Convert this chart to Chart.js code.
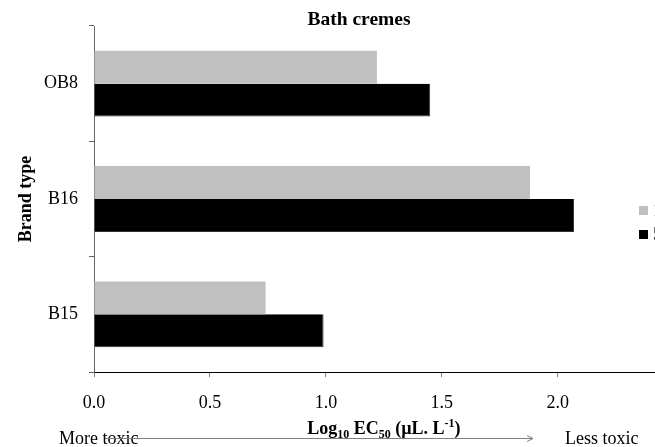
<!DOCTYPE html>
<html>
<head>
<meta charset="utf-8">
<title>Bath cremes</title>
<script src="https://cdn.jsdelivr.net/npm/chart.js@4/dist/chart.umd.min.js"></script>
<style>
  html, body { margin: 0; padding: 0; overflow: hidden; background: #fff; }
  #wrap { width: 655px; height: 447px; overflow: hidden; }
  canvas { display: block; }
</style>
</head>
<body>
<div id="wrap"><canvas id="chart" width="700" height="447"></canvas></div>
<script>
// Brand types, top to bottom
const categories = ['OB8', 'B16', 'B15'];
// Exposure series names
const seriesNames = ['15 min', '5 min'];
// Log10 EC50 values (µL. L-1)
const values15min = [1.22, 1.88, 0.74];
const values5min = [1.45, 2.07, 0.99];
// Axis range and tick step
const xMin = 0;
const xMax = 2.5;
const xStep = 0.5;

const SERIF = '"Liberation Serif", "Times New Roman", serif';
const seriesColors = ['#c0c0c0', '#000000'];

// Extra text: chart title, x-axis title with sub/superscripts, toxicity arrow, legend
const extras = {
  id: 'extras',
  afterDraw(chart) {
    const ctx = chart.ctx;
    ctx.save();
    ctx.fillStyle = '#000';

    // Title
    ctx.font = 'bold 19.5px ' + SERIF;
    ctx.textAlign = 'center';
    ctx.textBaseline = 'middle';
    ctx.fillText('Bath cremes', 359, 20);

    // X axis title
    const area = chart.chartArea;
    const parts = [
      { t: 'Log', s: 0 }, { t: '10', s: 1 }, { t: ' EC', s: 0 }, { t: '50', s: 1 },
      { t: ' (\u00b5L. L', s: 0 }, { t: '-1', s: -1 }, { t: ')', s: 0 }
    ];
    const big = 'bold 18px ' + SERIF;
    const small = 'bold 12px ' + SERIF;
    let total = 0;
    parts.forEach(p => { ctx.font = p.s ? small : big; p.w = ctx.measureText(p.t).width; total += p.w; });
    let x = (area.left + area.right) / 2 - total / 2;
    const base = 434;
    ctx.textAlign = 'left';
    ctx.textBaseline = 'alphabetic';
    parts.forEach(p => {
      ctx.font = p.s ? small : big;
      const dy = p.s === 1 ? 4 : (p.s === -1 ? -7 : 0);
      ctx.fillText(p.t, x, base + dy);
      x += p.w;
    });

    // Toxicity direction
    ctx.font = '18px ' + SERIF;
    ctx.textBaseline = 'middle';
    ctx.fillText('More toxic', 59, 439);
    ctx.fillText('Less toxic', 565, 439);
    ctx.strokeStyle = '#7f7f7f';
    ctx.lineWidth = 1;
    ctx.beginPath();
    ctx.moveTo(105, 438.5);
    ctx.lineTo(533, 438.5);
    ctx.moveTo(527, 435.5);
    ctx.lineTo(533, 438.5);
    ctx.lineTo(527, 441.5);
    ctx.stroke();

    // Legend
    chart.data.datasets.forEach((ds, i) => {
      const y = 206 + i * 24;
      ctx.fillStyle = ds.backgroundColor;
      ctx.fillRect(639, y, 9, 9);
      ctx.fillStyle = '#000';
      ctx.font = '18px ' + SERIF;
      ctx.textBaseline = 'middle';
      ctx.fillText(ds.label, 653, y + 5);
    });
    ctx.restore();
  }
};

new Chart(document.getElementById('chart'), {
  type: 'bar',
  data: {
    labels: categories,
    datasets: [
      { label: seriesNames[0], data: values15min, backgroundColor: seriesColors[0],
        categoryPercentage: 0.571, barPercentage: 1.0 },
      { label: seriesNames[1], data: values5min, backgroundColor: seriesColors[1],
        borderColor: '#333', borderWidth: { top: 0, bottom: 1, right: 1, left: 0 },
        categoryPercentage: 0.571, barPercentage: 1.0 }
    ]
  },
  options: {
    indexAxis: 'y',
    responsive: false,
    animation: false,
    devicePixelRatio: 1,
    layout: { padding: { left: 0, top: 26, right: 10, bottom: 0 } },
    plugins: {
      legend: { display: false },
      title: { display: false },
      tooltip: { enabled: false }
    },
    scales: {
      x: {
        type: 'linear',
        min: xMin,
        max: xMax,
        position: 'bottom',
        ticks: {
          stepSize: xStep,
          color: '#000',
          font: { family: SERIF, size: 18 },
          padding: 15,
          callback: v => Number(v).toFixed(1)
        },
        grid: { drawOnChartArea: false, drawTicks: true, tickLength: 5, color: '#808080' },
        border: { display: true, color: '#000', width: 1 },
        afterFit: s => { s.height = 75; }
      },
      y: {
        type: 'category',
        ticks: {
          color: '#000',
          font: { family: SERIF, size: 18 },
          padding: 11
        },
        grid: { offset: true, drawOnChartArea: false, drawTicks: true, tickLength: 5, color: '#666' },
        border: { display: true, color: '#666', width: 1 },
        title: {
          display: true,
          text: 'Brand type',
          color: '#000',
          font: { family: SERIF, size: 18, weight: 'bold' },
          padding: { top: 16, bottom: 4 }
        },
        afterFit: s => { s.width = 94; }
      }
    }
  },
  plugins: [extras]
});
</script>
</body>
</html>
